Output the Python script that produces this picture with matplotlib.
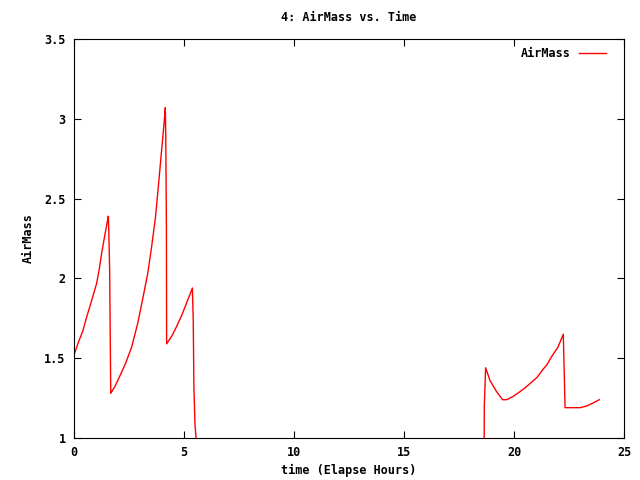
import numpy as np
import matplotlib
matplotlib.use("Agg")
import matplotlib.pyplot as plt
from matplotlib.ticker import FuncFormatter

# Elapsed hours and airmass values
time_h = [0.0, 0.2, 0.4, 0.58, 0.8, 1.03, 1.15, 1.26, 1.4, 1.52, 1.56, 1.58, 1.62, 1.67,
          1.85, 2.09, 2.35, 2.62, 2.9, 3.15, 3.35, 3.53, 3.7, 3.83, 3.98, 4.08, 4.13, 4.15,
          4.17, 4.2, 4.21, 4.45, 4.67, 4.9, 5.1, 5.3, 5.38, 5.42, 5.45, 5.5, 5.55, 5.6,
          18.63, 18.65, 18.71, 18.91, 19.21, 19.48, 19.67, 19.95, 20.27, 20.55, 20.8,
          21.05, 21.26, 21.5, 21.71, 22.0, 22.24, 22.28, 22.32, 22.6, 23.0, 23.3, 23.6, 23.88]
airmass = [1.52, 1.60, 1.67, 1.76, 1.86, 1.97, 2.06, 2.16, 2.27, 2.36, 2.39, 2.30, 2.06, 1.28,
           1.32, 1.39, 1.47, 1.57, 1.72, 1.89, 2.03, 2.20, 2.38, 2.57, 2.80, 2.95, 3.03, 3.07,
           2.90, 2.33, 1.59, 1.64, 1.70, 1.77, 1.84, 1.91, 1.94, 1.74, 1.32, 1.08, 1.0, 0.5,
           0.5, 1.20, 1.44, 1.36, 1.29, 1.24, 1.24, 1.26, 1.29, 1.32, 1.35,
           1.38, 1.42, 1.46, 1.51, 1.57, 1.65, 1.43, 1.19, 1.19, 1.19, 1.20, 1.22, 1.24]

xticks = [0, 5, 10, 15, 20, 25]
yticks = [1, 1.5, 2, 2.5, 3, 3.5]

font = "DejaVu Sans Mono"
fs = 8.5

fig = plt.figure(figsize=(6.4, 4.8), dpi=100)
ax = fig.add_axes([74/640, 42/480, 550/640, 399/480])
ax.plot(time_h, airmass, color="red", lw=1.0, label="AirMass")
ax.set_xlim(0, 25)
ax.set_ylim(1, 3.5)
ax.set_xticks(xticks)
ax.set_yticks(yticks)
ax.yaxis.set_major_formatter(FuncFormatter(lambda v, p: f"{v:g}"))
ax.tick_params(direction="in", top=True, right=True, length=5, width=0.8,
               labelsize=fs, pad=6)
for lab in ax.get_xticklabels() + ax.get_yticklabels():
    lab.set_fontfamily(font)
    lab.set_fontweight("bold")
for s in ax.spines.values():
    s.set_linewidth(0.8)

ax.set_title("4: AirMass vs. Time", fontfamily=font, fontsize=fs, fontweight="bold", pad=13)
ax.set_xlabel("time (Elapse Hours)", fontfamily=font, fontsize=fs, fontweight="bold", labelpad=3)
ax.set_ylabel("AirMass", fontfamily=font, fontsize=fs, fontweight="bold", labelpad=7)

leg = ax.legend(loc="upper right", frameon=False, markerfirst=False,
                prop={"family": font, "size": fs, "weight": "bold"},
                handlelength=2.3, handletextpad=0.7, borderaxespad=0.3,
                bbox_to_anchor=(0.983, 1.0))

fig.savefig("out.png", dpi=100)
